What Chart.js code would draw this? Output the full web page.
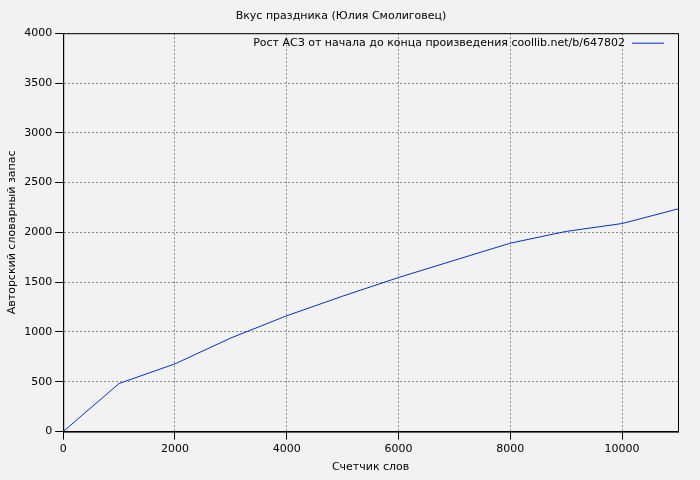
<!DOCTYPE html>
<html><head><meta charset="utf-8">
<script src="https://cdn.jsdelivr.net/npm/chart.js@4"></script>
<style>html,body{margin:0;background:#f2f2f2}#w{width:700px;height:480px}</style>
</head><body><div id="w"><canvas id="c"></canvas></div>
<script>
const words=[0,1000,2000,3000,4000,5000,6000,7000,8000,9000,10000,11000];
const vocab=[0,483,680,940,1163,1360,1547,1720,1892,2010,2089,2236];
const xTicks=[0,2000,4000,6000,8000,10000];
const title='Вкус праздника (Юлия Смолиговец)';
const seriesName='Рост АСЗ от начала до конца произведения coollib.net/b/647802';
Chart.defaults.font.family='DejaVu Sans';Chart.defaults.font.size=11;Chart.defaults.color='#000';
const legendPlugin={id:'lg',afterDraw(ch){const c=ch.ctx,a=ch.chartArea;c.save();c.font='11px DejaVu Sans';c.fillStyle='#000';c.textAlign='right';c.textBaseline='middle';
const y=a.top+10;c.fillText(seriesName,a.right-53,y);c.strokeStyle='#0033cc';c.lineWidth=1;c.beginPath();c.moveTo(a.right-46,y);c.lineTo(a.right-14,y);c.stroke();
c.strokeStyle='#000';c.strokeRect(a.left+0.5,a.top+0.5,a.right-a.left,a.bottom-a.top);c.restore();}};
const bg={id:'bg',beforeDraw(ch){const c=ch.ctx;c.save();c.fillStyle='#f2f2f2';c.fillRect(0,0,ch.width,ch.height);c.restore();}};
new Chart(document.getElementById('c'),{type:'line',
data:{datasets:[{data:words.map((x,i)=>({x,y:vocab[i]})),borderColor:'#0033cc',borderWidth:1,pointRadius:0,tension:0}]},
options:{responsive:true,maintainAspectRatio:false,animation:false,
layout:{padding:{top:6,right:22,left:4,bottom:4}},
plugins:{legend:{display:false},tooltip:{enabled:false},title:{display:true,text:title,font:{size:11,weight:'normal'},padding:{top:4,bottom:10}}},
scales:{x:{type:'linear',min:0,max:11000,afterBuildTicks:s=>{s.ticks=xTicks.map(v=>({value:v}));},ticks:{callback:v=>String(v),maxRotation:0},border:{color:'#000',dash:[2,2]},grid:{color:'#888',tickColor:'#000'},title:{display:true,text:'Счетчик слов',padding:2}},
y:{min:0,max:4000,ticks:{stepSize:500,callback:v=>String(v)},border:{color:'#000',dash:[2,2]},grid:{color:'#888',tickColor:'#000'},title:{display:true,text:'Авторский словарный запас',padding:2}}}},
plugins:[bg,legendPlugin]});
</script></body></html>
